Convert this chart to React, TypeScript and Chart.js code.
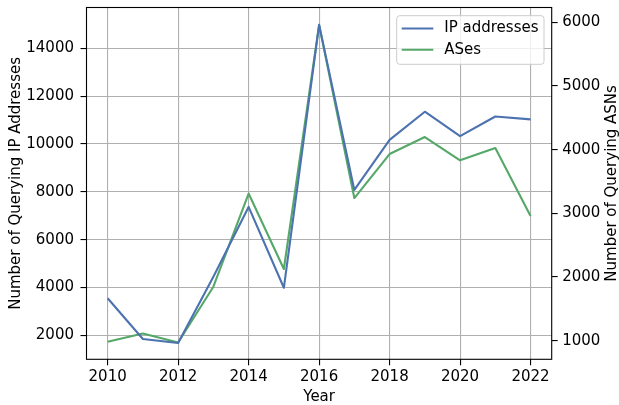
import React, { useEffect, useRef } from 'react';
import { Chart, registerables } from 'chart.js';

Chart.register(...registerables);

const years = [2010, 2011, 2012, 2013, 2014, 2015, 2016, 2017, 2018, 2019, 2020, 2021, 2022];
const ipAddresses = [3550, 1850, 1680, 4450, 7370, 3990, 14980, 8080, 10170, 11350, 10330, 11150, 11030];
const asCounts = [984, 1113, 972, 1848, 3311, 2126, 5960, 3240, 3931, 4198, 3832, 4025, 2958];

const xTicks = [2010, 2012, 2014, 2016, 2018, 2020, 2022];
const leftTicks = [2000, 4000, 6000, 8000, 10000, 12000, 14000];
const rightTicks = [1000, 2000, 3000, 4000, 5000, 6000];

const seriesLabels = ['IP addresses', 'ASes'];
const seriesColors = ['#4C72B0', '#55A868'];
const xTitle = 'Year';
const leftTitle = 'Number of Querying IP Addresses';
const rightTitle = 'Number of Querying ASNs';

const FONT_FAMILY = '"DejaVu Sans", "Liberation Sans", sans-serif';
const FONT_SIZE = 15;

const framePlugin = {
  id: 'frame',
  afterDatasetsDraw(chart: any) {
    const { ctx, chartArea } = chart;
    const { left, top, right, bottom } = chartArea;
    ctx.save();
    ctx.strokeStyle = '#000';
    ctx.lineWidth = 1.1;
    ctx.strokeRect(left, top, right - left, bottom - top);
    ctx.restore();
  },
};

const rightTitlePlugin = {
  id: 'rightTitle',
  afterDraw(chart: any) {
    const { ctx, chartArea } = chart;
    ctx.save();
    ctx.translate(chart.width - 6.5, (chartArea.top + chartArea.bottom) / 2);
    ctx.rotate(-Math.PI / 2);
    ctx.font = `${FONT_SIZE}px ${FONT_FAMILY}`;
    ctx.fillStyle = '#000';
    ctx.textAlign = 'center';
    ctx.textBaseline = 'middle';
    ctx.fillText(rightTitle, 0, 0);
    ctx.restore();
  },
};

const legendPlugin = {
  id: 'boxLegend',
  afterDraw(chart: any) {
    const { ctx, chartArea } = chart;
    const boxRight = chartArea.right - 7.7;
    const boxTop = chartArea.top + 8.2;
    const boxW = 147.3;
    const boxH = 48.6;
    const boxLeft = boxRight - boxW;
    ctx.save();
    ctx.beginPath();
    if (ctx.roundRect) ctx.roundRect(boxLeft, boxTop, boxW, boxH, 3);
    else ctx.rect(boxLeft, boxTop, boxW, boxH);
    ctx.fillStyle = 'rgba(255,255,255,0.8)';
    ctx.fill();
    ctx.strokeStyle = '#cccccc';
    ctx.lineWidth = 1;
    ctx.stroke();
    ctx.font = `${FONT_SIZE}px ${FONT_FAMILY}`;
    ctx.textBaseline = 'middle';
    ctx.textAlign = 'left';
    chart.data.datasets.forEach((ds: any, i: number) => {
      const y = boxTop + 12.8 + i * 21.2;
      ctx.beginPath();
      ctx.strokeStyle = ds.borderColor;
      ctx.lineWidth = 2.1;
      ctx.moveTo(boxLeft + 5, y);
      ctx.lineTo(boxLeft + 36.6, y);
      ctx.stroke();
      ctx.fillStyle = '#000';
      ctx.fillText(ds.label, boxLeft + 47.6, y);
    });
    ctx.restore();
  },
};

const font = { family: FONT_FAMILY, size: FONT_SIZE };

export default function App() {
  const canvasRef = useRef<HTMLCanvasElement | null>(null);

  useEffect(() => {
    if (!canvasRef.current) return;
    const chart = new Chart(canvasRef.current, {
      type: 'line',
      data: {
        datasets: [
          {
            label: seriesLabels[0],
            data: years.map((y, i) => ({ x: y, y: ipAddresses[i] })),
            borderColor: seriesColors[0],
            backgroundColor: seriesColors[0],
            borderWidth: 2.1,
            pointRadius: 0,
            tension: 0,
            borderJoinStyle: 'round',
            yAxisID: 'y',
          },
          {
            label: seriesLabels[1],
            data: years.map((y, i) => ({ x: y, y: asCounts[i] })),
            borderColor: seriesColors[1],
            backgroundColor: seriesColors[1],
            borderWidth: 2.1,
            pointRadius: 0,
            tension: 0,
            borderJoinStyle: 'round',
            yAxisID: 'y1',
          },
        ],
      },
      options: {
        animation: false,
        responsive: false,
        devicePixelRatio: 1,
        layout: { padding: { top: 7.5, left: 0, right: 0, bottom: 0 } },
        plugins: {
          legend: { display: false },
          tooltip: { enabled: false },
        },
        scales: {
          x: {
            type: 'linear',
            position: 'bottom',
            min: 2009.4,
            max: 2022.6,
            afterBuildTicks: (s: any) => {
              s.ticks = xTicks.map((v) => ({ value: v }));
            },
            afterFit: (s: any) => {
              s.height = 45.7;
              s.paddingLeft = 0;
              s.paddingRight = 0;
              s.paddingTop = 0;
              s.paddingBottom = 0;
            },
            ticks: {
              callback: (v: any) => String(v),
              padding: 3,
              color: '#000',
              maxRotation: 0,
              autoSkip: false,
              font,
            },
            grid: {
              color: '#b0b0b0',
              lineWidth: 1.1,
              tickLength: 6,
              tickColor: '#000',
              tickWidth: 1.1,
            },
            border: { display: false },
            title: {
              display: true,
              text: xTitle,
              color: '#000',
              font,
              padding: { top: 0, bottom: -1 },
            },
          },
          y: {
            type: 'linear',
            position: 'left',
            min: 1000,
            max: 15706,
            afterBuildTicks: (s: any) => {
              s.ticks = leftTicks.map((v) => ({ value: v }));
            },
            afterFit: (s: any) => {
              s.width = 86.5;
              s.paddingLeft = 0;
              s.paddingRight = 0;
              s.paddingTop = 0;
              s.paddingBottom = 0;
            },
            ticks: {
              callback: (v: any) => String(v),
              padding: 6.5,
              color: '#000',
              font,
            },
            grid: {
              color: '#b0b0b0',
              lineWidth: 1.1,
              tickLength: 6,
              tickColor: '#000',
              tickWidth: 1.1,
            },
            border: { display: false },
            title: {
              display: true,
              text: leftTitle,
              color: '#000',
              font,
              padding: { top: 7, bottom: 0 },
            },
          },
          y1: {
            type: 'linear',
            position: 'right',
            min: 708,
            max: 6232,
            afterBuildTicks: (s: any) => {
              s.ticks = rightTicks.map((v) => ({ value: v }));
            },
            afterFit: (s: any) => {
              s.width = 67.3;
              s.paddingLeft = 0;
              s.paddingRight = 0;
              s.paddingTop = 0;
              s.paddingBottom = 0;
            },
            ticks: {
              callback: (v: any) => String(v),
              padding: 4.5,
              color: '#000',
              font,
            },
            grid: {
              drawOnChartArea: false,
              color: '#b0b0b0',
              lineWidth: 1.1,
              tickLength: 6,
              tickColor: '#000',
              tickWidth: 1.1,
            },
            border: { display: false },
          },
        },
      },
      plugins: [framePlugin, legendPlugin, rightTitlePlugin],
    } as any);
    return () => chart.destroy();
  }, []);

  return (
    <div style={{ position: 'fixed', left: 0, top: 0, width: 619, height: 405, background: '#fff' }}>
      <canvas ref={canvasRef} width={619} height={405} style={{ display: 'block' }} />
    </div>
  );
}
